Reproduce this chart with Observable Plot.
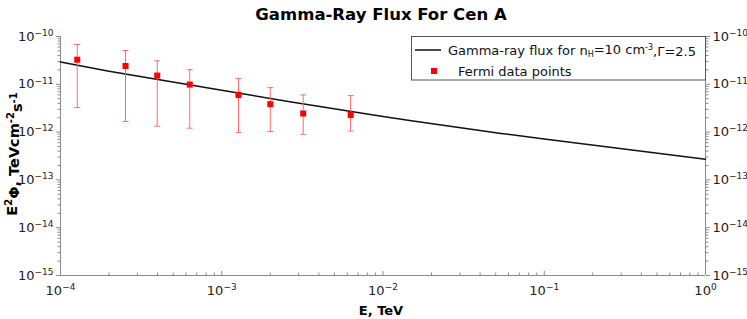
<!DOCTYPE html>
<html><head><meta charset="utf-8">
<script src="https://cdn.jsdelivr.net/npm/d3@7"></script>
<script src="https://cdn.jsdelivr.net/npm/@observablehq/plot@0.6"></script>
<style>html,body{margin:0;padding:0;background:#fff;}</style>
</head><body><div id="chart"></div>
<script>
// Fermi data points
const pointE    = [1.27e-4, 2.53e-4, 3.98e-4, 6.33e-4, 1.27e-3, 2.0e-3, 3.2e-3, 6.3e-3];
const pointFlux = [3.27e-11, 2.41e-11, 1.52e-11, 9.86e-12, 6.0e-12, 3.83e-12, 2.45e-12, 2.29e-12];
const pointHi   = [6.8e-11, 5.1e-11, 3.1e-11, 2.02e-11, 1.31e-11, 8.5e-12, 6.0e-12, 5.8e-12];
const pointLo   = [3.27e-12, 1.67e-12, 1.33e-12, 1.21e-12, 9.8e-13, 1.03e-12, 8.95e-13, 1.05e-12];
// model curve
const lineE    = [1e-4, 2e-4, 1e-3, 2.7e-3, 1e-2, 1.5e-2, 5.4e-2, 1e-1, 1];
const lineFlux = [2.92e-11, 1.87e-11, 7.5e-12, 4.28e-12, 2.12e-12, 1.72e-12, 9.4e-13, 7.2e-13, 2.7e-13];
// ticks
const xMajor = [1e-4, 1e-3, 1e-2, 1e-1, 1];
const yMajor = [1e-15, 1e-14, 1e-13, 1e-12, 1e-11, 1e-10];
const minorOf = (majors) => majors.slice(0, -1).flatMap(m => [2,3,4,5,6,7,8,9].map(k => k * m));
const xMinor = minorOf(xMajor);
const yMinor = minorOf(yMajor);

const points = pointE.map((e, i) => ({e, f: pointFlux[i], hi: pointHi[i], lo: pointLo[i]}));
const curve = lineE.map((e, i) => ({e, f: lineFlux[i]}));

const fmt = d => "10^" + Math.round(Math.log10(d));
const axisColor = "#8a8a8a";
const W = 747, H = 319, mL = 60, mR = 42, mT = 36, mB = 44;
const frameH = H - mT - mB;

const capSymbol = {draw(ctx) { ctx.moveTo(-3, 0); ctx.lineTo(3, 0); }};
const errColor = "#ff6b6b";

const plot = Plot.plot({
  width: W, height: H,
  marginLeft: mL, marginRight: mR, marginTop: mT, marginBottom: mB,
  style: {fontFamily: "DejaVu Sans", fontSize: "13px", background: "#fff", color: "#222"},
  x: {type: "log", domain: [1e-4, 1]},
  y: {type: "log", domain: [1e-15, 1e-10]},
  marks: [
    Plot.axisY(yMajor, {anchor: "left", tickSize: 4, tickPadding: 3, tickFormat: fmt, label: null, stroke: axisColor, fill: "#222", fontSize: 13}),
    Plot.axisY(yMinor, {anchor: "left", tickSize: 2.5, tickFormat: () => "", label: null, stroke: axisColor}),
    Plot.axisY(yMajor, {anchor: "right", tickSize: 4, tickPadding: 3, tickFormat: fmt, label: null, stroke: axisColor, fill: "#222", fontSize: 13}),
    Plot.axisY(yMinor, {anchor: "right", tickSize: 2.5, tickFormat: () => "", label: null, stroke: axisColor}),
    Plot.axisX(xMajor, {anchor: "bottom", tickSize: 0, tickPadding: 10, tickFormat: fmt, label: null, fill: "#222", fontSize: 13}),
    Plot.tickX(xMajor, {x: d => d, insetTop: frameH - 4, stroke: axisColor}),
    Plot.tickX(xMinor, {x: d => d, insetTop: frameH - 2.5, stroke: axisColor}),
    Plot.ruleX([1e-4, 1], {stroke: axisColor}),
    Plot.ruleY([1e-15], {stroke: axisColor}),
    Plot.line(curve, {x: "e", y: "f", stroke: "#111", strokeWidth: 1.5}),
    Plot.ruleX(points, {x: "e", y1: "lo", y2: "hi", stroke: errColor, strokeWidth: 1}),
    Plot.dot(points, {x: "e", y: "hi", symbol: capSymbol, stroke: errColor, strokeWidth: 1, r: 3}),
    Plot.dot(points, {x: "e", y: "lo", symbol: capSymbol, stroke: errColor, strokeWidth: 1, r: 3}),
    Plot.dot(points, {x: "e", y: "f", symbol: "square", fill: "#ff0000", r: 3.4})
  ]
});
document.getElementById("chart").appendChild(plot);

const svg = d3.select(plot);
// superscript tick labels
svg.selectAll("text").each(function() {
  const t = this.textContent;
  const m = /^10\^(-?\d+)$/.exec(t);
  if (!m) return;
  const el = d3.select(this);
  const tsp = el.select("tspan");
  const target = tsp.empty() ? el : tsp;
  target.text(null);
  target.append("tspan").text("10");
  target.append("tspan").attr("dy", "-0.55em").attr("font-size", "9px").text(m[1].replace("-", "\u2212"));
});

// Title
svg.append("text").attr("x", 381).attr("y", 20).attr("text-anchor", "middle")
  .attr("font-family", "DejaVu Sans").attr("font-weight", "bold").attr("font-size", "16.5px").attr("fill", "#000")
  .text("Gamma-Ray Flux For Cen A");

// X label
svg.append("text").attr("x", 381).attr("y", 315).attr("text-anchor", "middle")
  .attr("font-family", "DejaVu Sans").attr("font-weight", "bold").attr("font-size", "13px").attr("fill", "#000")
  .text("E, TeV");

// Y label
const yl = svg.append("text").attr("transform", "translate(17,154) rotate(-90)").attr("text-anchor", "middle")
  .attr("font-family", "DejaVu Sans").attr("font-weight", "bold").attr("font-size", "14.5px").attr("fill", "#000");
yl.append("tspan").text("E");
yl.append("tspan").attr("dy", "-0.5em").attr("font-size", "10px").text("2");
yl.append("tspan").attr("dy", "0.5em").text("\u03A6, TeVcm");
yl.append("tspan").attr("dy", "-0.5em").attr("font-size", "10px").text("-2");
yl.append("tspan").attr("dy", "0.5em").text("s");
yl.append("tspan").attr("dy", "-0.5em").attr("font-size", "10px").text("-1");

// Legend
const lg = svg.append("g").attr("font-family", "DejaVu Sans").attr("font-size", "13px").attr("fill", "#111").attr("text-anchor", "start");
lg.append("rect").attr("x", 411.5).attr("y", 36.5).attr("width", 294).attr("height", 43.5)
  .attr("fill", "#fff").attr("stroke", "#555").attr("stroke-width", 1);
lg.append("line").attr("x1", 415).attr("x2", 441).attr("y1", 50).attr("y2", 50).attr("stroke", "#111").attr("stroke-width", 1.5);
const lt = lg.append("text").attr("x", 448).attr("y", 55).attr("text-anchor", "start");
lt.append("tspan").text("Gamma-ray flux for n");
lt.append("tspan").attr("dy", "0.25em").attr("font-size", "8px").text("H");
lt.append("tspan").attr("dy", "-0.25em").text("=10 cm");
lt.append("tspan").attr("dy", "-0.5em").attr("font-size", "8px").text("-3");
lt.append("tspan").attr("dy", "0.5em").text(",\u0393=2.5");
lg.append("rect").attr("x", 431).attr("y", 68).attr("width", 6).attr("height", 6).attr("fill", "#ff0000");
lg.append("text").attr("x", 458).attr("y", 76).attr("text-anchor", "start").text("Fermi data points");
</script>
</body></html>
